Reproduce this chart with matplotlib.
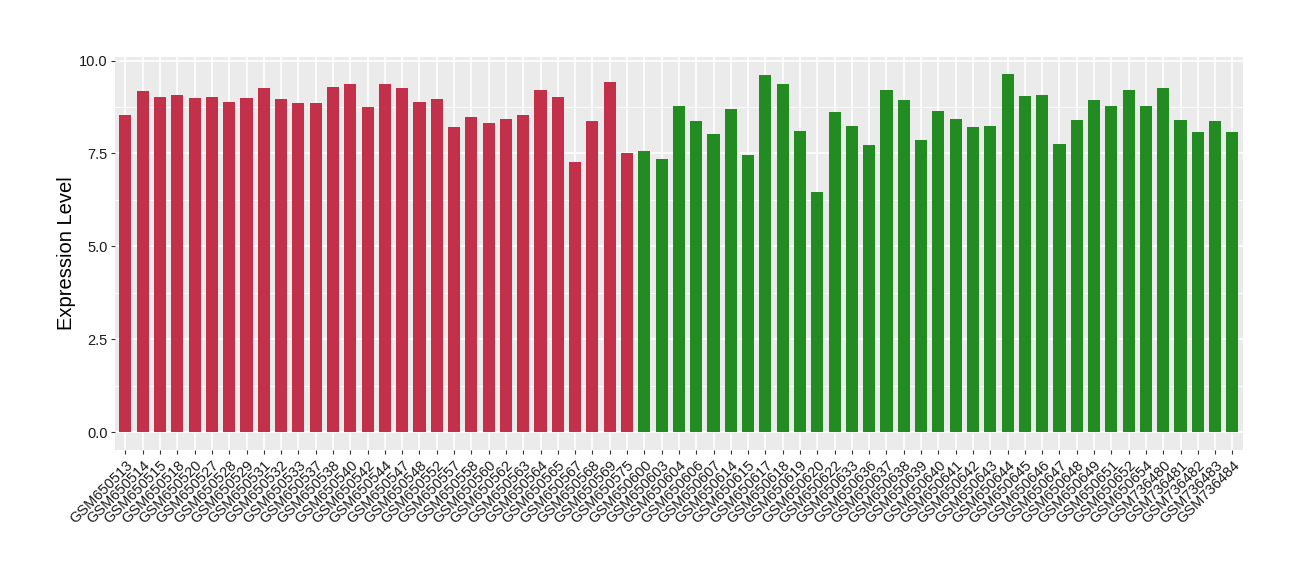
#!/usr/bin/env python3
import matplotlib

matplotlib.use("Agg")
import matplotlib.pyplot as plt  # noqa: E402
import numpy as np  # noqa: E402

red_samples = [
    "GSM650513", "GSM650514", "GSM650515", "GSM650518", "GSM650520", "GSM650527",
    "GSM650528", "GSM650529", "GSM650531", "GSM650532", "GSM650533", "GSM650537",
    "GSM650538", "GSM650540", "GSM650542", "GSM650544", "GSM650547", "GSM650548",
    "GSM650552", "GSM650557", "GSM650558", "GSM650560", "GSM650562", "GSM650563",
    "GSM650564", "GSM650565", "GSM650567", "GSM650568", "GSM650569", "GSM650575",
]
red_values = [
    8.53, 9.17, 9.01, 9.06, 8.98, 9.01, 8.88, 8.98, 9.25, 8.96,
    8.85, 8.85, 9.28, 9.36, 8.74, 9.36, 9.25, 8.88, 8.96, 8.21,
    8.47, 8.31, 8.42, 8.53, 9.20, 9.01, 7.27, 8.37, 9.41, 7.51,
]

green_samples = [
    "GSM650600", "GSM650603", "GSM650604", "GSM650606", "GSM650607", "GSM650614",
    "GSM650615", "GSM650617", "GSM650618", "GSM650619", "GSM650620", "GSM650622",
    "GSM650633", "GSM650636", "GSM650637", "GSM650638", "GSM650639", "GSM650640",
    "GSM650641", "GSM650642", "GSM650643", "GSM650644", "GSM650645", "GSM650646",
    "GSM650647", "GSM650648", "GSM650649", "GSM650651", "GSM650652", "GSM650654",
    "GSM736480", "GSM736481", "GSM736482", "GSM736483", "GSM736484",
]
green_values = [
    7.56, 7.35, 8.79, 8.37, 8.02, 8.71, 7.46, 9.60, 9.36, 8.10,
    6.46, 8.61, 8.23, 7.72, 9.22, 8.93, 7.86, 8.63, 8.42, 8.21,
    8.23, 9.63, 9.04, 9.06, 7.75, 8.39, 8.93, 8.77, 9.20, 8.79,
    9.25, 8.39, 8.07, 8.37, 8.07,
]

y_ticks = [0.0, 2.5, 5.0, 7.5, 10.0]

RED = "#C23149"
GREEN = "#228B22"

plt.rcParams["font.family"] = ["Liberation Sans", "DejaVu Sans"]

labels = red_samples + green_samples
values = red_values + green_values
colors = [RED] * len(red_values) + [GREEN] * len(green_values)
x = np.arange(len(labels))

fig = plt.figure(figsize=(13, 5.8), dpi=100)
ax = fig.add_axes([0.0885, 0.224, 0.8675, 0.678])
ax.set_facecolor("#EBEBEB")

# ggplot-like grid: minor lines between major y ticks
for y in [1.25, 3.75, 6.25, 8.75]:
    ax.axhline(y, color="white", lw=0.6, zorder=0.5)
for y in y_ticks:
    ax.axhline(y, color="white", lw=1.2, zorder=0.6)
for xi in x:
    ax.axvline(xi, color="white", lw=1.2, zorder=0.6)

ax.bar(x, values, width=0.7, color=colors, zorder=2)

ax.set_xlim(-0.6, len(labels) - 0.4)
ax.set_ylim(-0.48, 10.1)
ax.set_yticks(y_ticks)
ax.set_yticklabels([f"{v:.1f}" for v in y_ticks], fontsize=10.5, color="#1A1A1A")
ax.set_xticks(x)
ax.set_xticklabels(labels, rotation=45, ha="right", rotation_mode="anchor",
                   fontsize=10.5, color="#1A1A1A")
ax.tick_params(axis="both", length=3, color="#333333", width=0.8, pad=2.5)
ax.set_ylabel("Expression Level", fontsize=14.5, labelpad=2)

for s in ax.spines.values():
    s.set_visible(False)

fig.savefig("out.png", dpi=100)
